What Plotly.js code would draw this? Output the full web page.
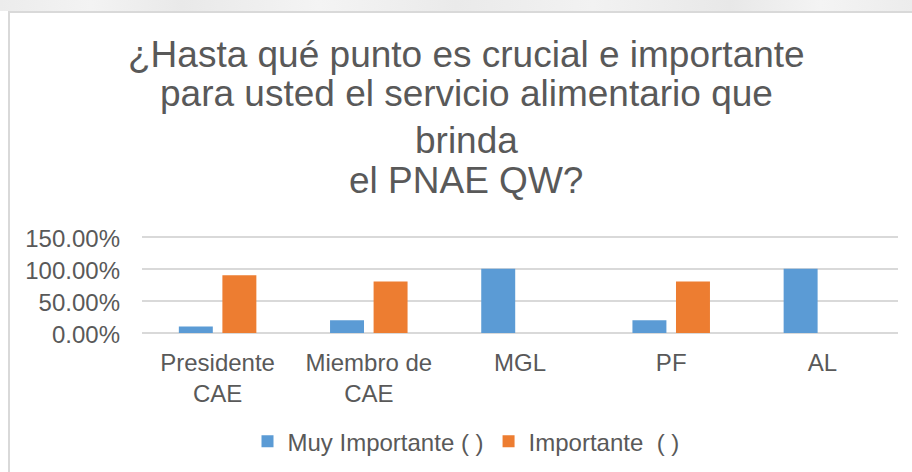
<!DOCTYPE html>
<html>
<head>
<meta charset="utf-8">
<script src="https://cdn.plot.ly/plotly-3.0.1.min.js"></script>
<style>
  html, body { margin: 0; padding: 0; background: #ffffff; }
  #band { position: absolute; left: 0; top: 0; width: 912px; height: 11px;
          background: linear-gradient(90deg, #ececec 0%, #f3f3f3 10%, #e9e9e9 20%, #f4f4f4 35%, #eaeaea 50%, #f2f2f2 65%, #e8e8e8 80%, #f4f4f4 90%, #ececec 100%); }
  #frame { position: absolute; left: 8px; top: 11px; width: 920px; height: 480px;
           border-left: 2px solid #d9d9d9; border-top: 2px solid #d9d9d9; background: #ffffff; }
  #chart { position: absolute; left: 0; top: 0; width: 912px; height: 472px; }
</style>
</head>
<body>
<div id="band"></div>
<div id="frame"></div>
<div id="chart"></div>
<script>
const categories = ["Presidente<br>CAE", "Miembro de<br>CAE", "MGL", "PF", "AL"];
const seriesNames = ["Muy Importante ( )", "Importante  ( )"];
const muyImportante = [0.10, 0.20, 1.00, 0.20, 1.00];
const importante = [0.90, 0.80, 0, 0.80, 0];
const yTickVals = [0, 0.5, 1.0, 1.5];
const titleLines = [
  "¿Hasta qué punto es crucial e importante",
  "para usted el servicio alimentario que",
  "brinda",
  "el PNAE QW?"
];

const W = 912, H = 472;
// plot-area geometry (page pixels): 0% at y0, 150% at y150
const plotL = 142, plotR = 898, y0 = 333.3, y150 = 236.7, yMaxVal = 1.54;
const pxPerUnit = (y0 - y150) / 1.5;
const plotB = y0, plotT = y0 - yMaxVal * pxPerUnit;
const plotH = plotB - plotT, plotW = plotR - plotL;
const toPaperY = py => (plotB - py) / plotH;
const toPaperX = px => (px - plotL) / plotW;

const titleCentersY = [54.5, 93.5, 140, 181];
const txtColor = "#595959";
const fontFam = "Liberation Sans, Arial, sans-serif";

const traces = [
  { type: "bar", name: seriesNames[0], x: categories, y: muyImportante,
    marker: { color: "#5B9BD5" }, hoverinfo: "y" },
  { type: "bar", name: seriesNames[1], x: categories, y: importante,
    marker: { color: "#ED7D31" }, hoverinfo: "y" }
];

const annotations = titleLines.map((t, i) => ({
  text: t, xref: "paper", yref: "paper",
  x: toPaperX(466), y: toPaperY(titleCentersY[i]),
  xanchor: "center", yanchor: "middle", showarrow: false,
  font: { family: fontFam, size: 37, color: txtColor }
}));

const layout = {
  width: W, height: H,
  margin: { l: plotL, r: W - plotR, t: plotT, b: H - plotB, pad: 0, autoexpand: false },
  paper_bgcolor: "rgba(0,0,0,0)",
  plot_bgcolor: "rgba(0,0,0,0)",
  barmode: "group",
  bargap: 0.424,
  bargroupgap: 0.22,
  font: { family: fontFam, color: txtColor, size: 24 },
  xaxis: {
    showgrid: false, zeroline: false, showline: false, ticks: "",
    tickfont: { family: fontFam, size: 24, color: txtColor },
    ticklabelstandoff: 13, fixedrange: true, automargin: false
  },
  yaxis: {
    range: [0, yMaxVal], tickvals: yTickVals, tickformat: ".2%",
    showgrid: true, gridcolor: "#d9d9d9", gridwidth: 2,
    zeroline: true, zerolinecolor: "#d9d9d9", zerolinewidth: 2,
    showline: false, ticks: "",
    tickfont: { family: fontFam, size: 24, color: txtColor },
    ticklabelstandoff: 21, ticklabelshift: 2, fixedrange: true, automargin: false
  },
  showlegend: true,
  legend: {
    orientation: "h", xref: "container", yref: "container",
    x: 466 / W, y: 1 - 441.7 / H,
    xanchor: "center", yanchor: "middle",
    font: { family: fontFam, size: 24, color: txtColor },
    itemwidth: 30, bgcolor: "rgba(0,0,0,0)"
  },
  annotations: annotations
};

Plotly.newPlot("chart", traces, layout, { displayModeBar: false, staticPlot: true });
</script>
</body>
</html>
